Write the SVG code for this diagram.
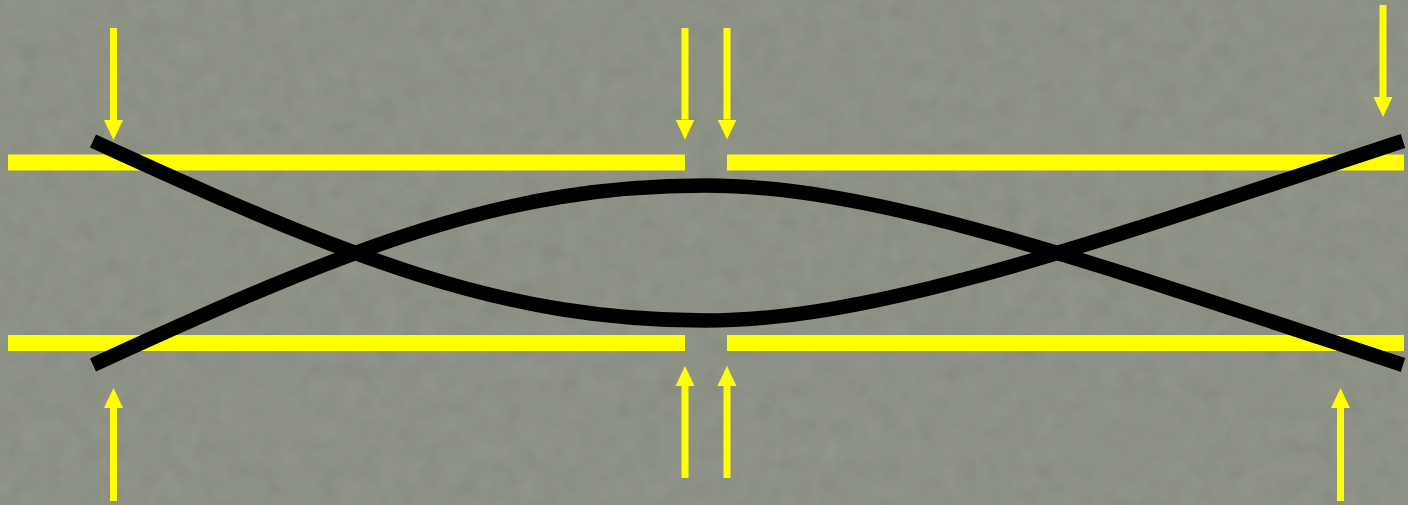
<svg xmlns="http://www.w3.org/2000/svg" width="1408" height="505" viewBox="0 0 1408 505">
  <style>
    .rail { fill: #ffff00; }
    .shaft { stroke: #ffff00; stroke-width: 7; stroke-linecap: butt; fill: none; }
    .track { stroke: #000000; stroke-width: 14.5; stroke-linecap: butt; fill: none; }
  </style>
  <defs>
    <marker id="ah" markerUnits="userSpaceOnUse" viewBox="0 0 20 20" markerWidth="20" markerHeight="20" refX="0" refY="10" orient="auto">
      <path d="M0,0.5 L20,10 L0,19.5 Z" fill="#ffff00"/>
    </marker>
    <filter id="tex" x="0" y="0" width="100%" height="100%">
      <feTurbulence type="fractalNoise" baseFrequency="0.05" numOctaves="4" seed="7"/>
      <feColorMatrix type="matrix" values="0.33 0.33 0.33 0 0  0.33 0.33 0.33 0 0  0.33 0.33 0.33 0 0  0 0 0 0 1"/>
    </filter>
  </defs>

  <g id="background">
    <rect x="0" y="0" width="1408" height="505" fill="#878c7e"/>
    <rect x="0" y="0" width="1408" height="505" filter="url(#tex)" opacity="0.12"/>
  </g>

  <g id="rails">
    <rect id="rail-top-left" class="rail" x="8" y="154.5" width="677" height="16"/>
    <rect id="rail-top-right" class="rail" x="727" y="154.5" width="677" height="16"/>
    <rect id="rail-bottom-left" class="rail" x="8" y="335" width="677" height="16"/>
    <rect id="rail-bottom-right" class="rail" x="727" y="335" width="677" height="16"/>
  </g>

  <g id="tracks">
    <path id="track-a" class="track" d="M93,141 C353,260.6 505,320.5 705,320.5 C875,320.5 1083,246.6 1403,141"/>
    <path id="track-b" class="track" d="M93,365 C353,245.4 505,185.5 705,185.5 C875,185.5 1083,259.4 1403,365"/>
  </g>

  <g id="arrows">
    <line id="arrow-top-1" class="shaft" x1="113.5" y1="28" x2="113.5" y2="120" marker-end="url(#ah)"/>
    <line id="arrow-top-2" class="shaft" x1="685" y1="28" x2="685" y2="119.5" marker-end="url(#ah)"/>
    <line id="arrow-top-3" class="shaft" x1="727" y1="28" x2="727" y2="119.5" marker-end="url(#ah)"/>
    <line id="arrow-top-4" class="shaft" x1="1383" y1="5" x2="1383" y2="97" marker-end="url(#ah)"/>
    <line id="arrow-bottom-1" class="shaft" x1="113.5" y1="501" x2="113.5" y2="408" marker-end="url(#ah)"/>
    <line id="arrow-bottom-2" class="shaft" x1="685" y1="478" x2="685" y2="386" marker-end="url(#ah)"/>
    <line id="arrow-bottom-3" class="shaft" x1="727" y1="478" x2="727" y2="386" marker-end="url(#ah)"/>
    <line id="arrow-bottom-4" class="shaft" x1="1340.5" y1="501" x2="1340.5" y2="408" marker-end="url(#ah)"/>
  </g>
</svg>
